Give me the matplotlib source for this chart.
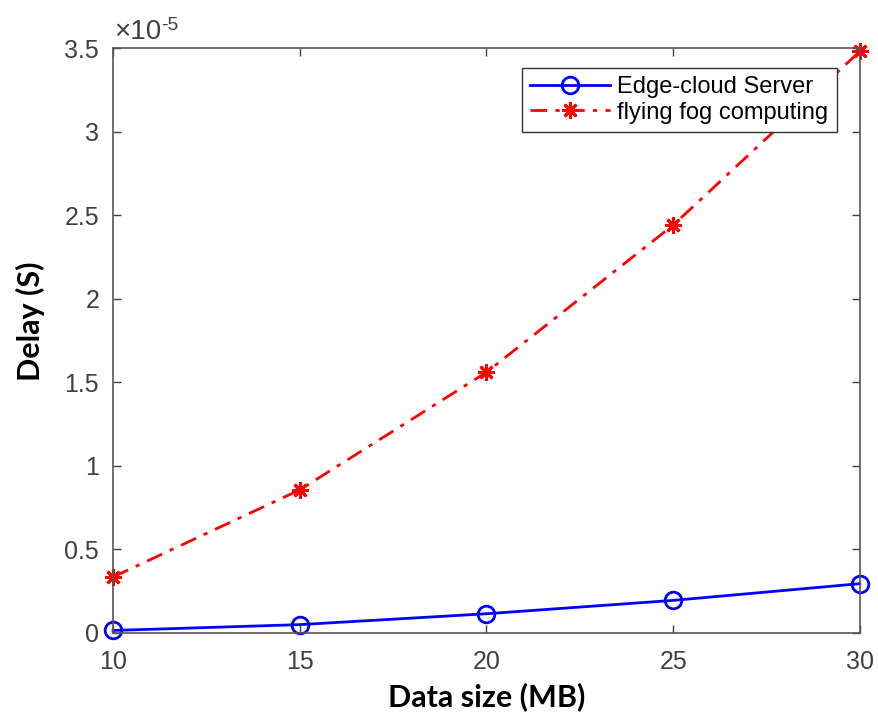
import matplotlib.pyplot as plt

data_size = [10, 15, 20, 25, 30]
edge_cloud = [0.015e-5, 0.05e-5, 0.115e-5, 0.195e-5, 0.295e-5]
flying_fog = [0.335e-5, 0.856e-5, 1.56e-5, 2.44e-5, 3.48e-5]

plt.rcParams['font.family'] = ['Liberation Sans', 'DejaVu Sans']

fig = plt.figure(figsize=(8.79, 7.22), dpi=100)
ax = fig.add_axes([0.1286, 0.1233, 0.8496, 0.8102])

ax.plot(data_size, edge_cloud, color='blue', linestyle='-', linewidth=2,
        marker='o', markersize=12, markerfacecolor='none', markeredgewidth=2,
        label='Edge-cloud Server', clip_on=False)
ax.plot(data_size, flying_fog, color='red', linestyle=(0, (6, 3, 1.5, 3)), linewidth=2,
        marker=(8, 2, 0), markersize=12, markeredgewidth=2,
        label='flying fog computing', clip_on=False)

ax.set_xlim(10, 30)
ax.set_ylim(0, 3.5e-5)
ax.set_xticks([10, 15, 20, 25, 30])
ax.set_yticks([0, 0.5e-5, 1e-5, 1.5e-5, 2e-5, 2.5e-5, 3e-5, 3.5e-5])
ax.set_yticklabels(['0', '0.5', '1', '1.5', '2', '2.5', '3', '3.5'])
ax.tick_params(direction='in', top=True, right=True, labelsize=18,
               colors='#404040', length=6, width=1)
ax.tick_params(axis='x', pad=12)
ax.tick_params(axis='y', pad=10)
for s in ax.spines.values():
    s.set_color('#555555')
    s.set_linewidth(1.2)

# MATLAB style exponent above the y axis
fig.text(0.130, 0.938, '×10', fontsize=20, color='#404040', ha='left', va='bottom')
fig.text(0.183, 0.953, '-5', fontsize=14, color='#404040', ha='left', va='bottom')

ax.set_xlabel('Data size (MB)', fontsize=22, fontweight='bold', family='Lato')
ax.xaxis.set_label_coords(0.5, -0.085)
ax.set_ylabel('Delay (S)', fontsize=22, fontweight='bold', family='Lato')
ax.yaxis.set_label_coords(-0.091, 0.533)

leg = ax.legend(loc='upper right', bbox_to_anchor=(0.969, 0.966), borderaxespad=0,
                fontsize=17, frameon=True, fancybox=False, framealpha=1,
                edgecolor='#333333', handlelength=3.4, borderpad=0.35,
                labelspacing=0.15, handletextpad=0.3)
leg.get_frame().set_linewidth(1)

fig.savefig('out.png', dpi=100)
